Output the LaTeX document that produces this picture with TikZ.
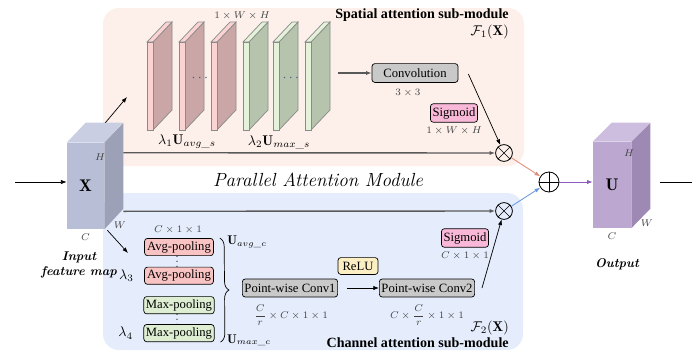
\documentclass[tikz,border=0pt]{standalone}
\usepackage{amsmath}
\usepackage{amssymb}
\usepackage{fontspec}
\usepackage{tikz}
\usetikzlibrary{arrows.meta, positioning, calc, decorations.pathreplacing}
\newfontfamily\tnr{Liberation Serif}

\definecolor{spbg}{HTML}{FDF0EA}
\definecolor{chbg}{HTML}{E5EDFC}
\definecolor{xfront}{HTML}{B8BED6}
\definecolor{xtop}{HTML}{CACEE2}
\definecolor{xside}{HTML}{9CA1B8}
\definecolor{ufront}{HTML}{BBA7D0}
\definecolor{utop}{HTML}{CDBDDF}
\definecolor{uside}{HTML}{9D89B3}
\definecolor{avgside}{HTML}{CBA6A6}
\definecolor{avgfront}{HTML}{FBD3D3}
\definecolor{maxside}{HTML}{B6C4AE}
\definecolor{maxfront}{HTML}{E3F2D9}
\definecolor{slabedge}{HTML}{8A8A8A}
\definecolor{convgray}{HTML}{C9C9C9}
\definecolor{sigpink}{HTML}{F9B8D8}
\definecolor{reluyel}{HTML}{FDEFC4}
\definecolor{avgred}{HTML}{FAC3C3}
\definecolor{maxgreen}{HTML}{DDEED2}
\definecolor{dotblue}{HTML}{4A5A78}
\definecolor{redline}{HTML}{E08A7A}
\definecolor{blueline}{HTML}{6A98E0}
\definecolor{purpline}{HTML}{8A5CC0}

\begin{document}
\begin{tikzpicture}[
  x=0.025cm, y=-0.025cm,
  >={Latex[length=4pt,width=3pt]},
  box/.style   = {draw, rounded corners=2pt, inner sep=1.5pt, line width=0.5pt,
                  font=\tnr\fontsize{9}{10}\selectfont},
  pool/.style  = {box, minimum width=1.72cm, minimum height=0.43cm},
  pwconv/.style = {box, fill=convgray, minimum width=2.38cm, minimum height=0.45cm},
  op/.style    = {draw, circle, inner sep=0pt, minimum size=0.42cm, line width=0.6pt},
  dimlbl/.style = {font=\scriptsize, text=black!75, inner sep=1pt},
  title/.style = {font=\tnr\bfseries\fontsize{10}{12}\selectfont, inner sep=0pt, anchor=east},
  feat/.style  = {inner sep=0pt, minimum width=0.93cm, minimum height=2.15cm},
  trunk/.style = {->, line width=1pt, black!65},
]
  \useasboundingbox (0,0) rectangle (692,351);

  % sub-module backgrounds
  \fill[spbg, rounded corners=0.4cm] (103,8) rectangle (524,166);
  \fill[chbg, rounded corners=0.4cm] (103,193) rectangle (523,350);

  % input feature map
  \node[feat, fill=xfront] (X) at (85.5,186) {\large$\mathbf{X}$};
  \fill[xtop]  (X.north west) -- ++(19,-20) -- ++(37,0) -- (X.north east) -- cycle;
  \fill[xside] (X.north east) -- ++(19,-20) -- ++(0,86) -- (X.south east) -- cycle;
  \node[dimlbl] (XH) at (100,157) {$H$};
  \node[dimlbl] (XW) at (120,225) {$W$};
  \node[dimlbl, below=2pt of X] (XC) {$C$};
  \node[align=center, font=\small\bfseries\itshape, inner sep=0pt] (inlbl) at (79,265) {Input\\feature map};
  \coordinate (in) at (15,182);
  \draw[->] (in) -- (in -| X.west);

  % output feature map
  \node[feat, fill=ufront, minimum width=0.95cm] (U) at (612,185) {\large$\mathbf{U}$};
  \fill[utop]  (U.north west) -- ++(19,-19) -- ++(38,0) -- (U.north east) -- cycle;
  \fill[uside] (U.north east) -- ++(19,-19) -- ++(0,86) -- (U.south east) -- cycle;
  \node[dimlbl] (UH) at (629,153) {$H$};
  \node[dimlbl] (UW) at (647,223) {$W$};
  \node[dimlbl, below=2pt of U] (UC) {$C$};
  \node[font=\small\bfseries\itshape, inner sep=0pt] (outlbl) at (617,264) {Output};
  \coordinate (outst) at (660,182);
  \coordinate (out)   at (692,182);
  \draw[line width=0.6pt] (outst) -- (out);

  \node[font=\fontsize{13.5}{15}\selectfont\itshape] (pam) at (318,180) {Parallel Attention Module};

  % spatial branch
  \foreach \x/\f/\s in {147/avgfront/avgside, 179/avgfront/avgside, 211/avgfront/avgside,
                        243/maxfront/maxside, 273/maxfront/maxside, 305/maxfront/maxside} {
    \filldraw[fill=\s, draw=slabedge, line width=0.5pt] (\x+6,42) -- ++(19,-20) -- ++(0,88) -- (\x+6,130) -- cycle;
    \filldraw[fill=\f, draw=slabedge, line width=0.5pt] (\x,42) -- ++(19,-20) -- ++(6,0) -- (\x+6,42) -- cycle;
    \filldraw[fill=\f, draw=slabedge, line width=0.5pt] (\x,42) rectangle (\x+6,130);
  }
  \node[text=dotblue, inner sep=0pt] (dots1) at (201,78) {$\cdots$};
  \node[text=dotblue, inner sep=0pt] (dots2) at (292,78) {$\cdots$};
  \node[dimlbl] (sdim) at (242,16) {$1\times W\times H$};
  \node (lam1) at (187,142) {$\lambda_1\mathbf{U}_{avg\_s}$};
  \node (lam2) at (279,142) {$\lambda_2\mathbf{U}_{max\_s}$};

  \node[box, fill=convgray, minimum width=2.15cm, minimum height=0.47cm] (conv) at (415,73) {Convolution};
  \node[dimlbl] (kdim) at (408,93) {$3\times 3$};
  \node[box, fill=sigpink, minimum width=1.15cm, minimum height=0.46cm] (sig1) at (454,113) {Sigmoid};
  \node[dimlbl, below=2pt of sig1] (s1dim) {$1\times W\times H$};

  \node[title] (sptitle) at (509,15) {Spatial attention sub-module};
  \node[anchor=east, inner sep=0pt] (F1) at (509,32) {$\mathcal{F}_1(\mathbf{X})$};

  \node[op] (m1) at (504,153) {};
  \draw (m1.north west) -- (m1.south east) (m1.north east) -- (m1.south west);

  \coordinate (sp) at (127,97);
  \coordinate (sl) at (338,73);
  \draw[->, line width=0.5pt] ($(X.north east)+(1,-20)$) -- (sp);
  \draw[trunk] ($(X.north east)+(19,10)$) -- (m1.west);
  \draw[trunk] (sl) -- (conv.west);
  \draw[->, line width=0.5pt] ($(conv.east)+(10,1)$) -- (m1);

  % channel branch
  \node[dimlbl] (cdim) at (178,230) {$C\times 1\times 1$};
  \node[pool, fill=avgred] (avg1) at (179,247) {Avg-pooling};
  \node[pool, fill=avgred,   below=0.27cm of avg1] (avg2) {Avg-pooling};
  \node[pool, fill=maxgreen, below=0.29cm of avg2] (max1) {Max-pooling};
  \node[pool, fill=maxgreen, below=0.25cm of max1] (max2) {Max-pooling};
  \foreach \y in {-5,0,5} {
    \fill ($($(avg1.south)!0.5!(avg2.north)$)+(-2,\y)$) circle (0.45pt);
    \fill ($($(max1.south)!0.5!(max2.north)$)+(-2,\y)$) circle (0.45pt);
  }
  \node[left=4pt of avg2] (lam3) {$\lambda_3$};
  \node[left=4pt of max2] (lam4) {$\lambda_4$};
  \draw[decorate, decoration={brace, amplitude=0.22cm}, line width=0.5pt]
    ($(avg1.north east)+(6,0)$) -- ($(max2.south east)+(6,0)$);
  \node (uavg) at (247,242) {\small$\mathbf{U}_{avg\_c}$};
  \node (umax) at (249,340) {\small$\mathbf{U}_{max\_c}$};

  \node[pwconv] (pw1) at (290,288) {Point-wise Conv1};
  \node[dimlbl] (pw1dim) at (291,315) {$\dfrac{C}{r}\times C\times 1\times 1$};
  \node[box, fill=reluyel, minimum width=1cm, minimum height=0.42cm] (relu) at (358,266) {ReLU};
  \node[pwconv] (pw2) at (427,288) {Point-wise Conv2};
  \node[dimlbl] (pw2dim) at (427,315) {$C\times\dfrac{C}{r}\times 1\times 1$};
  \node[box, fill=sigpink, minimum width=1.15cm, minimum height=0.46cm] (sig2) at (465,238) {Sigmoid};
  \node[dimlbl, below=2pt of sig2] (s2dim) {$C\times 1\times 1$};

  \node[anchor=east, inner sep=0pt] (F2) at (509,328) {$\mathcal{F}_2(\mathbf{X})$};
  \node[title] (chtitle) at (509,343) {Channel attention sub-module};

  \node[op] (m2) at (504,211) {};
  \draw (m2.north west) -- (m2.south east) (m2.north east) -- (m2.south west);

  \coordinate (ch) at (128,253);
  \draw[->, line width=0.5pt] ($(X.south east)+(3,1)$) -- (ch);
  \draw[trunk] ($(X.south east)+(19,-18)$) -- (m2.west);
  \draw[->, line width=0.5pt] ($(pw1.east)+(9,0)$) -- (pw2.west);
  \draw[->, line width=0.5pt] ($(pw2.east)+(7,0)$) -- (m2);

  % fusion
  \node[op, minimum size=0.5cm] (sum) at (549,182) {};
  \draw (sum.north) -- (sum.south) (sum.west) -- (sum.east);
  \draw[->, redline, line width=0.6pt]  (m1) -- (sum);
  \draw[->, blueline, line width=0.6pt] (m2) -- (sum);
  \draw[->, purpline, line width=0.6pt] (sum) -- (sum -| U.west);
\end{tikzpicture}
\end{document}
